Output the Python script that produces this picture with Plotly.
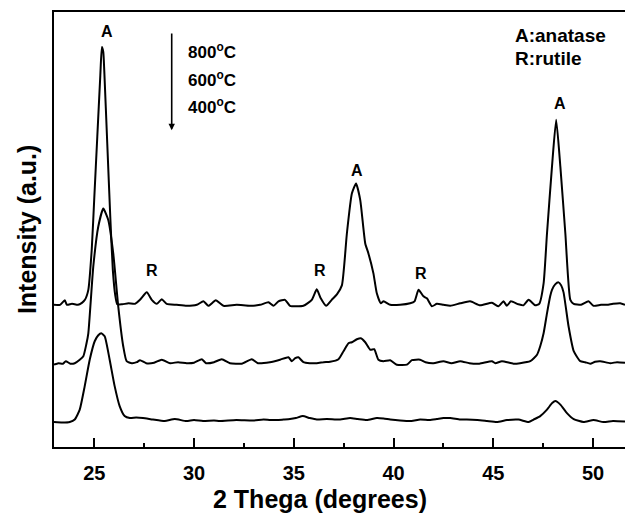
import plotly.graph_objects as go

# ---- data (2-theta in degrees, intensity in arbitrary units) ----
t800_x = [22.98, 23.28, 23.52, 23.63, 23.88, 24.18, 24.38, 24.53, 24.70, 24.87, 25.00, 25.15, 25.30, 25.38, 25.45,
          25.50, 25.65, 25.80, 25.93, 26.05, 26.15, 26.40, 26.71, 27.04, 27.29, 27.63, 27.88, 28.13, 28.38, 28.63,
          29.13, 29.63, 30.14, 30.47, 30.72, 31.09, 31.47, 32.14, 32.81, 33.31, 33.73, 33.98, 34.23, 34.56, 34.81,
          35.48, 35.90, 36.15, 36.35, 36.62, 36.90, 37.16, 37.41, 37.66, 37.91, 38.12, 38.33, 38.58, 38.74, 38.99,
          39.16, 39.36, 39.50, 39.83, 40.33, 40.83, 41.05, 41.25, 41.50, 41.67, 41.92, 42.17, 42.50, 42.84, 43.34,
          43.84, 44.34, 44.93, 45.26, 45.51, 45.68, 45.88, 46.26, 46.51, 46.77, 47.10, 47.30, 47.52, 47.69, 47.94,
          48.15, 48.36, 48.61, 48.86, 49.03, 49.40, 49.77, 50.02, 50.40, 50.70, 51.00, 51.36, 51.60]
t800_y = [142.5, 142.5, 147, 142.5, 143.5, 142.5, 144.5, 147.5, 157.5, 197.5, 250, 311, 372, 401, 396,
          377, 304, 231, 177, 152, 143, 143, 144, 143.5, 147.5, 155, 147.5, 143.5, 148, 143.5,
          142.5, 141.5, 142.5, 146, 141.5, 147, 141.5, 142.5, 141.5, 142.5, 145, 141.5, 146, 147.5, 141.5,
          141.5, 147.5, 158, 149, 141.5, 147.5, 153, 162, 214, 254, 264, 247.5, 204, 194, 174,
          154, 144, 146, 142.5, 142.5, 144, 146, 157.5, 151, 149, 141, 143.5, 142.5, 141.5, 144,
          146, 142, 144.5, 141, 146, 141.5, 146, 143, 142, 147.5, 142, 143.5, 164, 214, 281,
          328, 281, 214, 147.5, 143.5, 142.5, 146, 141.5, 142.5, 142.5, 143.5, 144, 142.5]

t600_x = [22.98, 23.20, 23.43, 23.57, 23.80, 24.02, 24.27, 24.45, 24.60, 24.70, 24.95, 25.20, 25.45, 25.70, 25.95,
          26.20, 26.45, 26.62, 26.88, 27.13, 27.29, 27.60, 28.00, 28.38, 28.80, 29.20, 29.63, 30.00, 30.39, 30.60,
          31.00, 31.39, 31.80, 32.39, 32.89, 33.20, 33.80, 34.31, 34.73, 34.90, 35.07, 35.23, 35.48, 35.80, 36.15,
          36.50, 36.82, 37.24, 37.49, 37.74, 37.91, 38.16, 38.36, 38.58, 38.83, 39.03, 39.24, 39.49, 39.83, 40.16,
          40.67, 40.92, 41.33, 41.60, 42.00, 42.50, 42.90, 43.34, 43.80, 44.30, 44.93, 45.10, 45.43, 46.01, 46.34,
          46.85, 47.19, 47.35, 47.52, 47.69, 47.85, 47.94, 48.10, 48.27, 48.40, 48.52, 48.77, 49.03, 49.36, 49.60,
          49.86, 50.10, 50.36, 50.86, 51.20, 51.60]
t600_y = [82.5, 84, 83.5, 86, 83.5, 84, 87.5, 91, 103, 114, 181, 221, 239, 227.5, 194,
          141, 101, 86, 84, 85, 87, 84, 84.5, 87.5, 84, 85, 84, 84.5, 88, 84,
          85, 88, 84, 83.5, 88, 84, 85, 87.5, 90, 86, 89, 90, 85, 84, 84,
          85, 85.5, 88, 96, 104, 105, 108, 109, 105, 97.5, 98, 87.5, 86, 87, 82.5,
          82.5, 87, 87.5, 85, 84, 86, 84, 86, 84, 83.5, 86, 84, 86, 83.5, 84,
          86, 92.5, 101, 114, 134, 151, 157.5, 163, 165, 162, 155, 121, 96, 86, 85,
          83.5, 85.5, 86, 84, 85, 84.5]

t400_x = [22.98, 23.40, 23.77, 24.02, 24.27, 24.52, 24.77, 25.02, 25.20, 25.35, 25.52, 25.77, 26.02, 26.27, 26.52,
          26.78, 27.10, 27.44, 27.94, 28.53, 29.03, 29.61, 30.00, 30.45, 31.00, 31.29, 32.12, 32.96, 33.48, 33.82,
          34.15, 34.49, 34.81, 35.10, 35.45, 35.80, 36.15, 36.65, 37.32, 37.82, 38.20, 38.66, 39.16, 39.50, 39.83,
          40.33, 40.90, 41.33, 41.80, 42.17, 42.50, 42.84, 43.34, 43.67, 44.20, 44.68, 45.18, 45.68, 46.26, 46.77,
          47.02, 47.35, 47.69, 47.95, 48.11, 48.36, 48.69, 49.03, 49.52, 50.02, 50.52, 51.00, 51.60]
t400_y = [25, 24.5, 25, 27.5, 37.5, 61, 87.5, 106, 112, 114, 111, 87.5, 61, 41, 31,
          29, 29.5, 29, 27.5, 26, 28, 26, 27, 26, 26.5, 26, 27, 26.5, 27.5, 27,
          27, 27.5, 28, 29, 31, 29, 27.5, 28, 27.5, 29, 28, 27, 29, 28.5, 27.5,
          26.5, 26, 27.5, 27, 28, 29, 29, 27.5, 27.5, 27, 26, 25, 27, 27.5, 25,
          27.5, 31, 37.5, 44, 46, 42.5, 34, 28, 25, 27, 25, 26, 25.5]

peak_label_x = [25.62, 38.19, 48.32, 27.88, 36.32, 41.37]
peak_label_y = [416, 277.5, 344, 177, 177, 174]
peak_label_text = ["A", "A", "A", "R", "R", "R"]

temperature_labels = ["800<sup>o</sup>C", "600<sup>o</sup>C", "400<sup>o</sup>C"]
phase_labels = ["A:anatase", "R:rutile"]
x_tick_vals = [25, 30, 35, 40, 45, 50]

FONT = "Liberation Sans, Arial, sans-serif"

fig = go.Figure()
for xs, ys, name in [(t800_x, t800_y, "800"), (t600_x, t600_y, "600"), (t400_x, t400_y, "400")]:
    fig.add_trace(go.Scatter(x=xs, y=ys, mode="lines", name=name,
                             line=dict(color="black", width=2, shape="spline", smoothing=0.5),
                             showlegend=False, hoverinfo="skip"))

annotations = []
for x, y, t in zip(peak_label_x, peak_label_y, peak_label_text):
    annotations.append(dict(x=x, y=y, xref="x", yref="y", text=t, showarrow=False,
                            font=dict(family=FONT, size=16, color="black", weight="bold")))

temp_y = [0.910, 0.845, 0.783]
for t, yy in zip(temperature_labels, temp_y):
    annotations.append(dict(x=0.231, y=yy, xref="paper", yref="paper", text=t, showarrow=False,
                            xanchor="left", yanchor="middle",
                            font=dict(family=FONT, size=17, color="black", weight="bold")))

phase_y = [0.946, 0.893]
for t, yy in zip(phase_labels, phase_y):
    annotations.append(dict(x=0.804, y=yy, xref="paper", yref="paper", text=t, showarrow=False,
                            xanchor="left", yanchor="middle",
                            font=dict(family=FONT, size=19, color="black", weight="bold")))

# downward arrow
annotations.append(dict(x=28.88, y=317.5, ax=28.88, ay=416, xref="x", yref="y", axref="x", ayref="y",
                        text="", showarrow=True, arrowhead=2, arrowsize=0.8, arrowwidth=1.6,
                        arrowcolor="black"))

# axis titles
annotations.append(dict(x=0.466, y=-0.12, xref="paper", yref="paper", text="2 Thega (degrees)",
                        showarrow=False, xanchor="center", yanchor="middle",
                        font=dict(family=FONT, size=25, color="black", weight="bold")))
annotations.append(dict(x=-0.048, y=0.5, xref="paper", yref="paper", text="Intensity (a.u.)",
                        showarrow=False, xanchor="center", yanchor="middle", textangle=-90,
                        font=dict(family=FONT, size=25, color="black", weight="bold")))

fig.update_layout(
    width=625, height=513,
    margin=dict(l=54, r=0, t=11.5, b=65.5),
    paper_bgcolor="white", plot_bgcolor="white",
    annotations=annotations,
    xaxis=dict(range=[22.98, 51.6], tickvals=x_tick_vals, ticks="inside", ticklen=9, tickwidth=1.5,
               tickcolor="black", showline=True, linecolor="black", linewidth=2, mirror=True,
               showgrid=False, zeroline=False, ticklabelstandoff=7,
               tickfont=dict(family=FONT, size=20, color="black", weight="bold"),
               minor=dict(dtick=2.5, tick0=25, ticks="inside", ticklen=4, tickwidth=1.5, tickcolor="black",
                          showgrid=False)),
    yaxis=dict(range=[0, 436], showticklabels=False, ticks="", showline=True, linecolor="black",
               linewidth=1.5, mirror=False, showgrid=False, zeroline=False),
)

fig.write_html("out.html", config={"displayModeBar": False},
               post_script="document.body.style.margin='0';document.body.style.overflow='hidden';")
